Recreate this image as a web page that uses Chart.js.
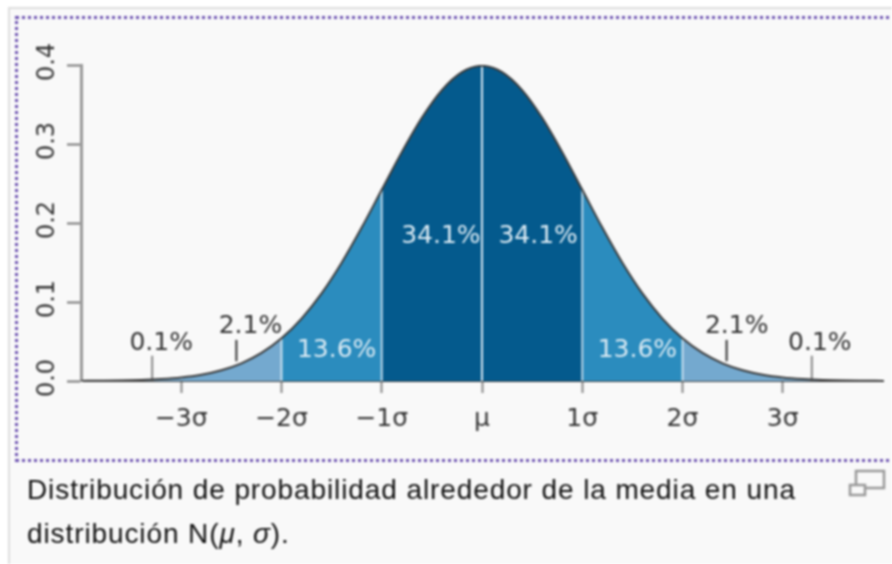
<!DOCTYPE html>
<html>
<head>
<meta charset="utf-8">
<script src="https://cdn.jsdelivr.net/npm/chart.js@4"></script>
<style>
  html, body { margin: 0; padding: 0; background: #fff; }
  #page { position: relative; width: 892px; height: 564px; overflow: hidden; filter: blur(0.8px); }
  #thumb { position: absolute; left: 8px; top: 7px; width: 900px; height: 570px; background: #f9f9f9; border: 2px solid #ddd; box-sizing: border-box; }
  #focus { position: absolute; left: 15px; top: 16px; width: 900px; height: 446px; border: 3px dotted #6a50b0; box-sizing: border-box; }
  #plot { position: absolute; left: 0; top: 0; width: 892px; height: 564px; }
  #caption { position: absolute; left: 27px; top: 468px; width: 840px; font: 28px/44px "Liberation Sans", sans-serif; letter-spacing: 0.9px; color: #111; }
  #zoomIcon { position: absolute; left: 848px; top: 468px; }
</style>
</head>
<body>
<div id="page">
  <div id="thumb"></div>
  <div id="focus"></div>
  <div id="plot"><canvas id="normalChart" width="892" height="564"></canvas></div>
  <div id="caption">Distribución de probabilidad alrededor de la media en una<br>distribución N(<i>μ</i>, <i>σ</i>).</div>
  <svg id="zoomIcon" width="38" height="30" fill="none" stroke="#999" stroke-width="2.5">
    <rect x="8" y="3" width="28" height="17"/>
    <rect x="2" y="17" width="15" height="10" fill="#f9f9f9"/>
  </svg>
</div>
<script>
// curve values, in sigma units
const xValues = [-4, -3.8, -3.6, -3.4, -3.2, -3, -2.8, -2.6, -2.4, -2.2, -2, -1.8, -1.6, -1.4, -1.2, -1, -0.8, -0.6, -0.4, -0.2,
  0, 0.2, 0.4, 0.6, 0.8, 1, 1.2, 1.4, 1.6, 1.8, 2, 2.2, 2.4, 2.6, 2.8, 3, 3.2, 3.4, 3.6, 3.8, 4];
const density = [0.0001, 0.0003, 0.0006, 0.0012, 0.0024, 0.0044, 0.0079, 0.0136, 0.0224, 0.0355, 0.054, 0.079, 0.1109, 0.1497, 0.1942, 0.242, 0.2897, 0.3332, 0.3683, 0.391,
  0.3989, 0.391, 0.3683, 0.3332, 0.2897, 0.242, 0.1942, 0.1497, 0.1109, 0.079, 0.054, 0.0355, 0.0224, 0.0136, 0.0079, 0.0044, 0.0024, 0.0012, 0.0006, 0.0003, 0.0001];

const bandStart = [-4, -3, -2, -1, 1, 2, 3];
const bandEnd = [-3, -2, -1, 1, 2, 3, 4];
const bandColor = ['#74a9cf', '#74a9cf', '#2b8cbe', '#045a8d', '#2b8cbe', '#74a9cf', '#74a9cf'];

const dividers = [-2, -1, 0, 1, 2];

const xTickLabels = ['−3σ', '−2σ', '−1σ', 'μ', '1σ', '2σ', '3σ'];
const yTickLabels = ['0.0', '0.1', '0.2', '0.3', '0.4'];

const outerText = ['0.1%', '2.1%', '2.1%', '0.1%'];
const outerX = [-3.2, -2.31, 2.54, 3.37];
const outerY = [0.048, 0.0685, 0.0685, 0.048];
const innerText = ['13.6%', '34.1%', '34.1%', '13.6%'];
const innerX = [-1.45, -0.41, 0.56, 1.55];
const innerY = [0.038, 0.1835, 0.1835, 0.038];

const leaderX = [-3.29, -2.45, 2.44, 3.29];
const leaderLow = [0, 0.025, 0.025, 0];
const leaderHigh = [0.032, 0.052, 0.052, 0.032];

const points = xValues.map((x, i) => ({ x: x, y: density[i] }));

const datasets = [];

bandStart.forEach((start, i) => {
  datasets.push({
    data: points.filter(p => p.x >= start && p.x <= bandEnd[i]),
    backgroundColor: bandColor[i],
    borderWidth: 0,
    fill: 'origin',
    pointRadius: 0,
    cubicInterpolationMode: 'monotone',
    order: 5
  });
});

dividers.forEach(x => {
  datasets.push({
    data: [{ x: x, y: 0 }, points.find(p => p.x === x)],
    borderColor: x === 0 ? '#d5e5f0' : 'rgba(225,238,246,0.75)',
    borderWidth: 2,
    pointRadius: 0,
    order: 3
  });
});

leaderX.forEach((x, i) => {
  datasets.push({
    data: [{ x: x, y: leaderLow[i] }, { x: x, y: leaderHigh[i] }],
    borderColor: Math.abs(x) > 3 ? '#888' : '#333',
    borderWidth: 2,
    pointRadius: 0,
    order: 3
  });
});

datasets.push({
  data: points,
  borderColor: '#3a3a3a',
  borderWidth: 2,
  pointRadius: 0,
  cubicInterpolationMode: 'monotone',
  order: 1
});

// percentage labels, placed through the chart scales
const percentLabels = {
  id: 'percentLabels',
  afterDatasetsDraw(chart) {
    const { ctx, scales } = chart;
    ctx.save();
    ctx.font = '25px "DejaVu Sans"';
    ctx.textAlign = 'center';
    ctx.textBaseline = 'middle';
    ctx.fillStyle = '#333';
    outerText.forEach((t, i) => ctx.fillText(t, scales.x.getPixelForValue(outerX[i]), scales.y.getPixelForValue(outerY[i])));
    ctx.fillStyle = '#dcebf4';
    innerText.forEach((t, i) => ctx.fillText(t, scales.x.getPixelForValue(innerX[i]), scales.y.getPixelForValue(innerY[i])));
    ctx.restore();
  }
};

new Chart(document.getElementById('normalChart'), {
  type: 'line',
  data: { datasets: datasets },
  plugins: [percentLabels],
  options: {
    responsive: false,
    animation: false,
    layout: { padding: { top: 65, right: 9 } },
    plugins: { legend: { display: false }, tooltip: { enabled: false } },
    scales: {
      x: {
        type: 'linear',
        min: -4,
        max: 4,
        afterBuildTicks: axis => { axis.ticks = axis.ticks.filter(t => Math.abs(t.value) < 4); },
        afterFit: axis => { axis.height = 183; },
        border: { color: '#444', width: 2 },
        grid: { drawOnChartArea: false, tickLength: 12, tickColor: '#888', tickWidth: 2 },
        ticks: {
          stepSize: 1,
          maxRotation: 0,
          padding: 11,
          color: '#333',
          font: { family: '"DejaVu Sans"', size: 25 },
          callback: (value) => xTickLabels[value + 3]
        }
      },
      y: {
        min: 0,
        max: 0.4,
        afterFit: axis => { axis.width = 81; },
        border: { color: '#999', width: 3 },
        grid: { drawOnChartArea: false, tickLength: 14, tickColor: '#777', tickWidth: 2 },
        ticks: {
          stepSize: 0.1,
          minRotation: 90,
          maxRotation: 90,
          crossAlign: 'center',
          padding: 0,
          labelOffset: -3,
          color: '#333',
          font: { family: '"DejaVu Sans"', size: 24 },
          callback: (value) => yTickLabels[Math.round(value * 10)]
        }
      }
    }
  }
});
</script>
</body>
</html>
